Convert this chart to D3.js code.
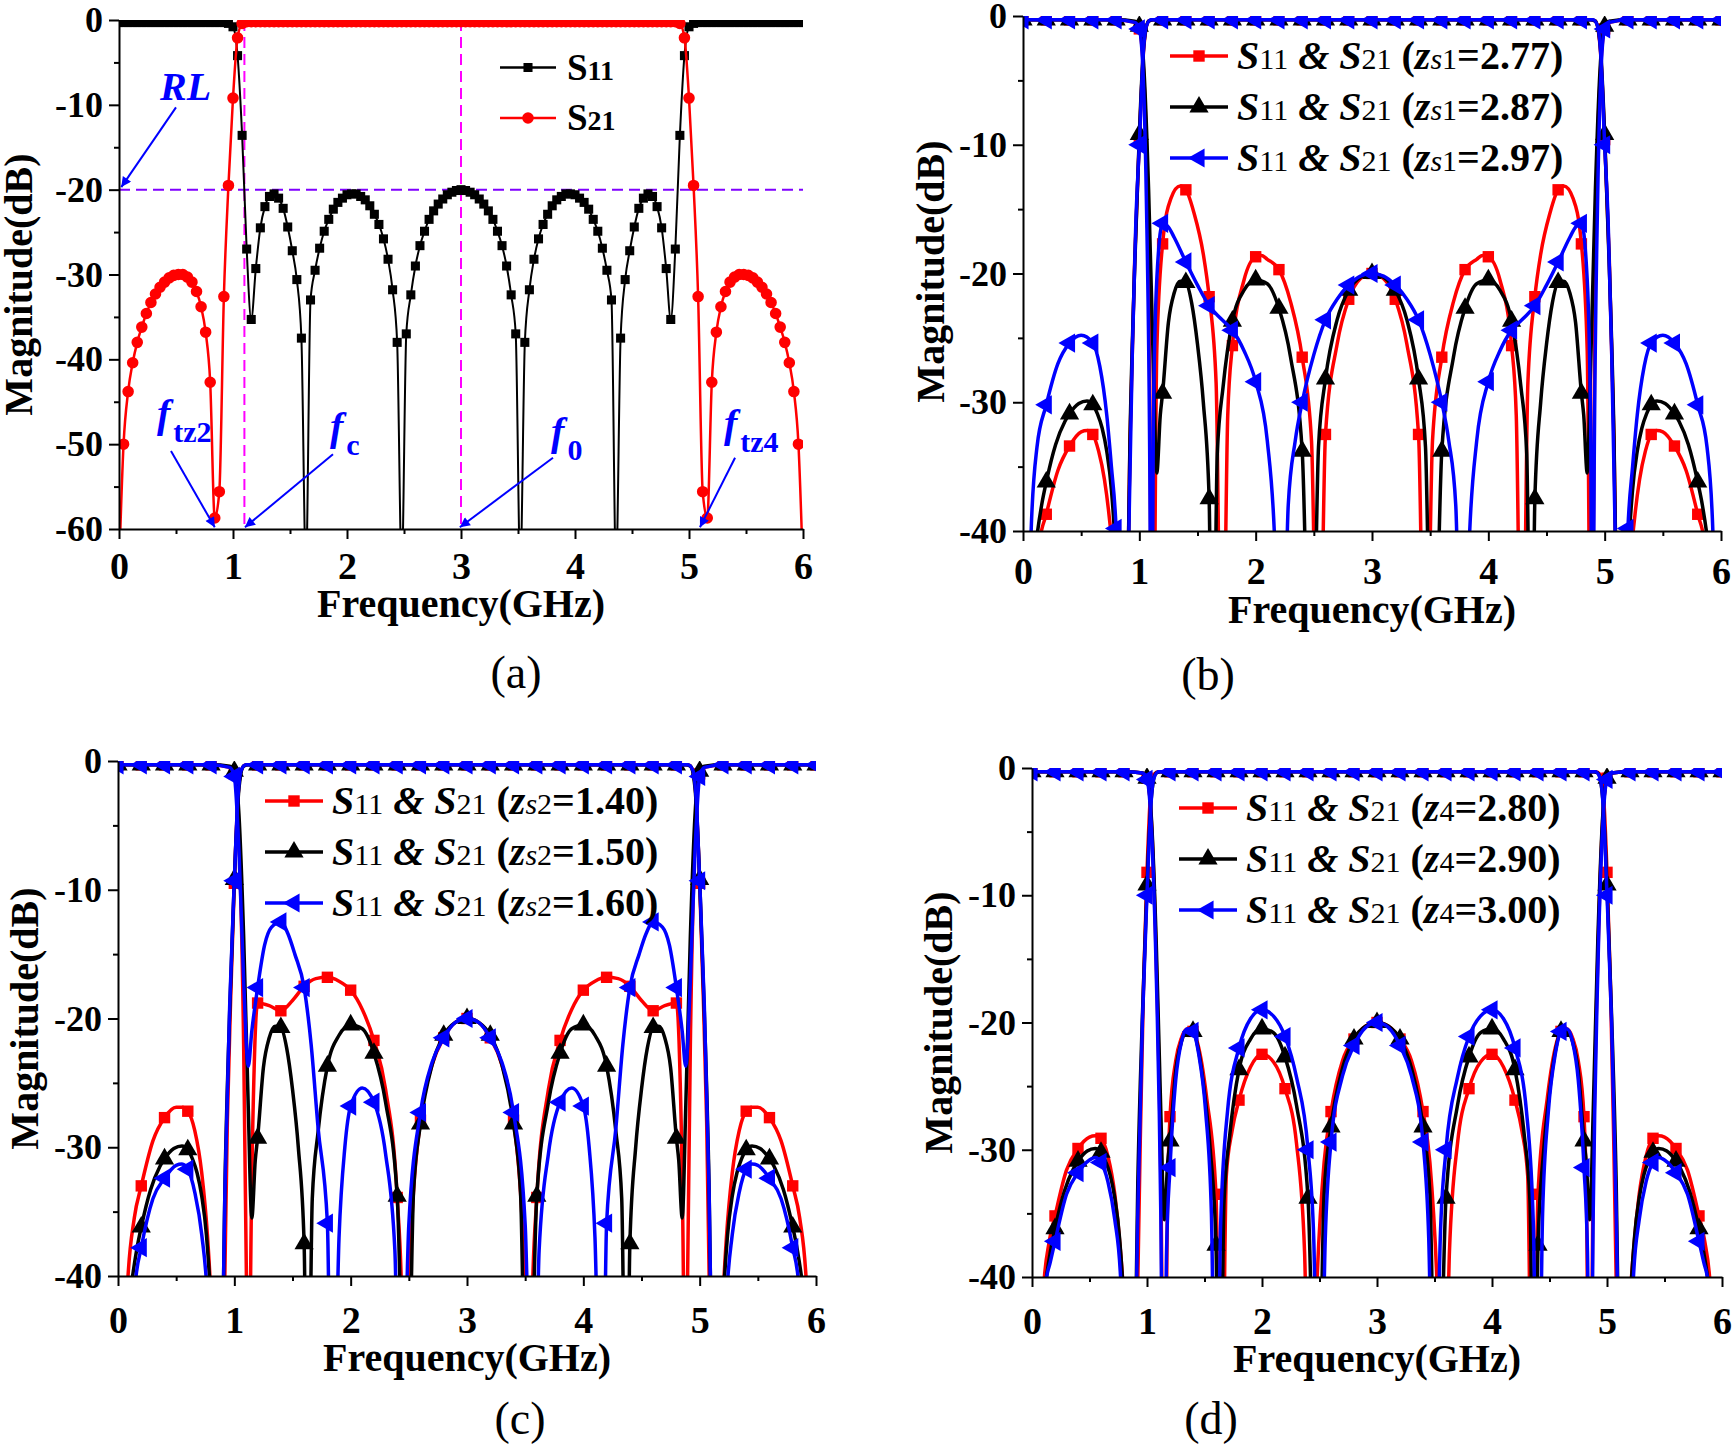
<!DOCTYPE html>
<html>
<head>
<meta charset="utf-8">
<script src="https://cdn.jsdelivr.net/npm/d3@7"></script>
<style>
  body { margin: 0; background: #fff; }
  svg { display: block; }
</style>
</head>
<body>
<svg id="fig" width="1734" height="1444"></svg>
<script>
var FONT = '"Liberation Serif", "Times New Roman", serif'

// ---------- shared axis values ----------
var freqTicks = [0, 1, 2, 3, 4, 5, 6]
var freqMinor = [0.5, 1.5, 2.5, 3.5, 4.5, 5.5]
var magTicksA = [0, -10, -20, -30, -40, -50, -60]
var magMinorA = [-5, -15, -25, -35, -45, -55]
var magTicks = [0, -10, -20, -30, -40]
var magMinor = [-5, -15, -25, -35]

// ---------- panel (a): S11 / S21 sampled every 0.04 GHz ----------
var aStep = 0.04
var aS11 = [
  -0.3,-0.3,-0.3,-0.3,-0.3,-0.3,-0.3,-0.3,-0.3,-0.3,
  -0.3,-0.3,-0.3,-0.3,-0.3,-0.3,-0.3,-0.3,-0.3,-0.3,
  -0.3,-0.3,-0.3,-0.3,-0.4,-0.8,-4.2,-13.6,-27,-35.3,
  -29.3,-24.5,-22,-20.8,-20.5,-21,-22.2,-24.4,-27.2,-30.6,
  -37.5,-65,-33,-29.5,-26.9,-24.9,-23.5,-22.3,-21.5,-21,
  -20.6,-20.5,-20.5,-20.8,-21.2,-21.9,-22.9,-24.1,-25.8,-28.2,
  -31.8,-38,-65,-37,-32.4,-29,-26.6,-24.9,-23.5,-22.5,
  -21.7,-21.1,-20.6,-20.3,-20.1,-20,-20.1,-20.3,-20.6,-21.1,
  -21.7,-22.5,-23.5,-24.9,-26.6,-29,-32.4,-37,-65,-38,
  -31.8,-28.2,-25.8,-24.1,-22.9,-21.9,-21.2,-20.8,-20.5,-20.5,
  -20.6,-21,-21.5,-22.3,-23.5,-24.9,-26.9,-29.5,-33,-65,
  -37.5,-30.6,-27.2,-24.4,-22.2,-21,-20.5,-20.8,-22,-24.5,
  -29.3,-35.3,-27,-13.6,-4.2,-0.8,-0.4,-0.3,-0.3,-0.3,
  -0.3,-0.3,-0.3,-0.3,-0.3,-0.3,-0.3,-0.3,-0.3,-0.3,
  -0.3,-0.3,-0.3,-0.3,-0.3,-0.3,-0.3,-0.3,-0.3,-0.3,
  -0.3
]
var aS21 = [
  -65,-50,-43.8,-40.4,-38,-36.2,-34.6,-33.3,-32.3,-31.5,
  -30.9,-30.4,-30.1,-30,-30,-30.3,-30.9,-32,-33.8,-36.8,
  -42.7,-58.7,-55.6,-32.6,-19.5,-9.2,-2.1,-0.4,-0.2,-0.2,
  -0.2,-0.2,-0.2,-0.2,-0.2,-0.2,-0.2,-0.2,-0.2,-0.2,
  -0.2,-0.2,-0.2,-0.2,-0.2,-0.2,-0.2,-0.2,-0.2,-0.2,
  -0.2,-0.2,-0.2,-0.2,-0.2,-0.2,-0.2,-0.2,-0.2,-0.2,
  -0.2,-0.2,-0.2,-0.2,-0.2,-0.2,-0.2,-0.2,-0.2,-0.2,
  -0.2,-0.2,-0.2,-0.2,-0.2,-0.2,-0.2,-0.2,-0.2,-0.2,
  -0.2,-0.2,-0.2,-0.2,-0.2,-0.2,-0.2,-0.2,-0.2,-0.2,
  -0.2,-0.2,-0.2,-0.2,-0.2,-0.2,-0.2,-0.2,-0.2,-0.2,
  -0.2,-0.2,-0.2,-0.2,-0.2,-0.2,-0.2,-0.2,-0.2,-0.2,
  -0.2,-0.2,-0.2,-0.2,-0.2,-0.2,-0.2,-0.2,-0.2,-0.2,
  -0.2,-0.2,-0.2,-0.4,-2.1,-9.2,-19.5,-32.6,-55.6,-58.7,
  -42.7,-36.8,-33.8,-32,-30.9,-30.3,-30,-30,-30.1,-30.4,
  -30.9,-31.5,-32.3,-33.3,-34.6,-36.2,-38,-40.4,-43.8,-50,
  -65
]
var fcLine = 1.1, f0Line = 3.0, rlLevel = -20

// ---------- flat parts shared by (b)-(d) ----------
var s11StopLo = [[0,-0.3],[0.2,-0.3],[0.4,-0.3],[0.6,-0.3],[0.8,-0.3]]
var s11StopHi = [[5.2,-0.3],[5.4,-0.3],[5.6,-0.3],[5.8,-0.3],[6,-0.3]]
var s21Pass = [[1.2,-0.3],[1.4,-0.3],[1.6,-0.3],[1.8,-0.3],[2,-0.3],[2.2,-0.3],[2.4,-0.3],[2.6,-0.3],[2.8,-0.3],[3,-0.3],
  [3.2,-0.3],[3.4,-0.3],[3.6,-0.3],[3.8,-0.3],[4,-0.3],[4.2,-0.3],[4.4,-0.3],[4.6,-0.3],[4.8,-0.3]]

// nominal design (zs1=2.87, zs2=1.50, z4=2.90), black in (b)-(d)
var nomS11Mid = [[0.96,-0.4],[1,-0.8],[1.04,-4.2],[1.08,-13.6],[1.12,-27],[1.15,-35.5],[1.18,-31],[1.2,-29.3],[1.25,-23.8],[1.3,-21.5],
  [1.35,-20.6],[1.4,-20.7],[1.45,-22.3],[1.5,-25.5],[1.55,-30],[1.6,-37.5],[1.63,-58],[1.67,-34],[1.72,-28.8],[1.8,-23.7],
  [1.9,-21.3],[2,-20.5],[2.1,-20.8],[2.2,-22.7],[2.3,-26.5],[2.4,-33.8],[2.48,-58],[2.54,-33.5],[2.6,-28.2],[2.7,-23.6],
  [2.8,-21.3],[2.9,-20.3],[3,-20],[3.1,-20.3],[3.2,-21.3],[3.3,-23.6],[3.4,-28.2],[3.46,-33.5],[3.52,-58],[3.6,-33.8],
  [3.7,-26.5],[3.8,-22.7],[3.9,-20.8],[4,-20.5],[4.1,-21.3],[4.2,-23.7],[4.28,-28.8],[4.33,-34],[4.37,-58],[4.4,-37.5],
  [4.45,-30],[4.5,-25.5],[4.55,-22.3],[4.6,-20.7],[4.65,-20.6],[4.7,-21.5],[4.75,-23.8],[4.8,-29.3],[4.82,-31],[4.85,-35.5],
  [4.88,-27],[4.92,-13.6],[4.96,-4.2],[5,-0.8],[5.04,-0.4]]
var nomS21Lo = [[0.04,-50],[0.08,-43.8],[0.12,-40.4],[0.16,-38],[0.2,-36.2],[0.28,-33.3],[0.36,-31.5],[0.4,-30.9],[0.48,-30.1],[0.55,-29.9],
  [0.6,-30.2],[0.64,-30.9],[0.68,-32],[0.72,-33.8],[0.76,-36.8],[0.8,-42.7],[0.85,-60],[0.88,-55.6],[0.92,-32.6],[0.96,-19.5],
  [1,-9.2],[1.04,-2.1],[1.08,-0.4],[1.12,-0.3]]
var nomS21Hi = [[4.88,-0.3],[4.92,-0.4],[4.96,-2.1],[5,-9.2],[5.04,-19.5],[5.08,-32.6],[5.12,-55.6],[5.15,-60],[5.2,-42.7],[5.24,-36.8],
  [5.28,-33.8],[5.32,-32],[5.36,-30.9],[5.4,-30.2],[5.45,-29.9],[5.52,-30.1],[5.6,-30.9],[5.64,-31.5],[5.72,-33.3],[5.8,-36.2],
  [5.84,-38],[5.88,-40.4],[5.92,-43.8],[5.96,-50]]

// ---------- panel (b): zs1 ----------
var zs1Values = ["2.77", "2.87", "2.97"]
var b277S11Mid = [[0.96,-0.5],[1,-1],[1.04,-5],[1.08,-18],[1.115,-58],[1.15,-26],[1.2,-17.7],[1.27,-14.2],[1.35,-13.2],[1.4,-13.5],
  [1.47,-15.3],[1.55,-18.5],[1.6,-21.8],[1.66,-28.5],[1.71,-58],[1.76,-31],[1.8,-25.6],[1.9,-20.5],[2,-18.7],[2.05,-18.6],
  [2.1,-18.9],[2.2,-19.7],[2.3,-22.2],[2.4,-26.5],[2.48,-33],[2.54,-58],[2.6,-32.5],[2.7,-25.5],[2.8,-22],[2.9,-20.4],
  [3,-20],[3.1,-20.4],[3.2,-22],[3.3,-25.5],[3.4,-32.5],[3.46,-58],[3.52,-33],[3.6,-26.5],[3.7,-22.2],[3.8,-19.7],
  [3.9,-18.9],[3.95,-18.6],[4,-18.7],[4.1,-20.5],[4.2,-25.6],[4.24,-31],[4.29,-58],[4.34,-28.5],[4.4,-21.8],[4.45,-18.5],
  [4.53,-15.3],[4.6,-13.5],[4.65,-13.2],[4.73,-14.2],[4.8,-17.7],[4.85,-26],[4.885,-58],[4.92,-18],[4.96,-5],[5,-1],[5.04,-0.5]]
var b277S21Lo = [[0.1,-58],[0.14,-41],[0.2,-38.7],[0.3,-35.3],[0.4,-33.4],[0.5,-32.3],[0.55,-32.2],[0.6,-32.5],[0.65,-33.8],[0.7,-36],
  [0.74,-38.8],[0.78,-43],[0.84,-60],[0.88,-55],[0.92,-33],[0.96,-19],[1,-9.6],[1.04,-2.3],[1.08,-0.4],[1.12,-0.3]]
var b277S21Hi = [[4.88,-0.3],[4.92,-0.4],[4.96,-2.3],[5,-9.6],[5.04,-19],[5.08,-33],[5.12,-55],[5.16,-60],[5.22,-43],[5.26,-38.8],
  [5.3,-36],[5.35,-33.8],[5.4,-32.5],[5.45,-32.2],[5.5,-32.3],[5.6,-33.4],[5.7,-35.3],[5.8,-38.7],[5.86,-41],[5.9,-58]]
var b297S11Mid = [[0.96,-0.5],[1,-1],[1.03,-4],[1.06,-14],[1.09,-35],[1.105,-58],[1.12,-32],[1.15,-20.5],[1.2,-16.1],[1.25,-16.4],
  [1.3,-17.2],[1.4,-19.1],[1.5,-20.9],[1.6,-22.5],[1.7,-23.5],[1.8,-24.4],[1.9,-26],[2,-28.4],[2.1,-33],[2.16,-40],
  [2.22,-58],[2.28,-38],[2.34,-33],[2.4,-30],[2.5,-26.3],[2.6,-23.6],[2.7,-22],[2.8,-20.9],[2.9,-20.2],[3,-20],
  [3.1,-20.2],[3.2,-20.9],[3.3,-22],[3.4,-23.6],[3.5,-26.3],[3.6,-30],[3.66,-33],[3.72,-38],[3.78,-58],[3.84,-40],
  [3.9,-33],[4,-28.4],[4.1,-26],[4.2,-24.4],[4.3,-23.5],[4.4,-22.5],[4.5,-20.9],[4.6,-19.1],[4.7,-17.2],[4.75,-16.4],
  [4.8,-16.1],[4.85,-20.5],[4.88,-32],[4.895,-58],[4.91,-35],[4.94,-14],[4.97,-4],[5,-1],[5.04,-0.5]]
var b297S21Lo = [[0.04,-58],[0.07,-40],[0.12,-33.5],[0.2,-30.2],[0.3,-27],[0.4,-25.4],[0.5,-24.8],[0.6,-25.4],[0.66,-27.2],[0.72,-31],
  [0.76,-35],[0.8,-39.8],[0.84,-52],[0.87,-60],[0.9,-45],[0.94,-26],[0.97,-16],[1,-10],[1.03,-3.5],[1.06,-0.8],[1.1,-0.3]]
var b297S21Hi = [[4.9,-0.3],[4.94,-0.8],[4.97,-3.5],[5,-10],[5.03,-16],[5.06,-26],[5.1,-45],[5.13,-60],[5.16,-52],[5.2,-39.8],
  [5.24,-35],[5.28,-31],[5.34,-27.2],[5.4,-25.4],[5.5,-24.8],[5.6,-25.4],[5.7,-27],[5.8,-30.2],[5.88,-33.5],[5.93,-40],[5.96,-58]]

// ---------- panel (c): zs2 ----------
var zs2Values = ["1.40", "1.50", "1.60"]
var c140S11Mid = [[0.96,-0.5],[1,-1],[1.04,-6],[1.08,-22],[1.11,-45],[1.125,-58],[1.14,-40],[1.17,-24],[1.2,-18.8],[1.3,-19],
  [1.4,-19.4],[1.5,-18.6],[1.6,-17.5],[1.7,-16.9],[1.8,-16.8],[1.9,-17.1],[2,-17.8],[2.1,-19.3],[2.2,-21.7],[2.3,-25.5],
  [2.4,-33.9],[2.44,-42],[2.47,-58],[2.52,-37],[2.6,-27.9],[2.7,-23.6],[2.8,-21.5],[2.9,-20.3],[3,-20],[3.1,-20.3],
  [3.2,-21.5],[3.3,-23.6],[3.4,-27.9],[3.48,-37],[3.53,-58],[3.56,-42],[3.6,-33.9],[3.7,-25.5],[3.8,-21.7],[3.9,-19.3],
  [4,-17.8],[4.1,-17.1],[4.2,-16.8],[4.3,-16.9],[4.4,-17.5],[4.5,-18.6],[4.6,-19.4],[4.7,-19],[4.8,-18.8],[4.83,-24],
  [4.86,-40],[4.875,-58],[4.89,-45],[4.92,-22],[4.96,-6],[5,-1],[5.04,-0.5]]
var c140S21Lo = [[0.05,-58],[0.08,-41],[0.14,-35.5],[0.2,-33],[0.3,-29.5],[0.4,-27.7],[0.5,-26.9],[0.55,-26.9],[0.6,-27.2],[0.66,-28.7],
  [0.72,-32],[0.77,-37],[0.8,-42],[0.85,-60],[0.9,-50],[0.94,-28],[0.97,-18],[1,-9.5],[1.03,-3],[1.06,-0.7],[1.1,-0.3]]
var c140S21Hi = [[4.9,-0.3],[4.94,-0.7],[4.97,-3],[5,-9.5],[5.03,-18],[5.06,-28],[5.1,-50],[5.15,-60],[5.2,-42],[5.23,-37],
  [5.28,-32],[5.34,-28.7],[5.4,-27.2],[5.45,-26.9],[5.5,-26.9],[5.6,-27.7],[5.7,-29.5],[5.8,-33],[5.86,-35.5],[5.92,-41],[5.95,-58]]
var c160S11Mid = [[0.96,-0.5],[1,-1.2],[1.04,-7],[1.08,-17],[1.12,-23.7],[1.15,-21],[1.2,-17.6],[1.26,-14.3],[1.32,-12.9],[1.4,-12.5],
  [1.46,-13.4],[1.52,-15],[1.6,-17.6],[1.66,-22],[1.72,-28.5],[1.8,-35.9],[1.84,-58],[1.9,-37],[1.95,-30],[2,-26.8],
  [2.1,-25.4],[2.2,-26.5],[2.3,-30.5],[2.38,-38],[2.43,-58],[2.5,-36],[2.6,-27.3],[2.7,-23.4],[2.8,-21.5],[2.9,-20.3],
  [3,-20],[3.1,-20.3],[3.2,-21.5],[3.3,-23.4],[3.4,-27.3],[3.5,-36],[3.57,-58],[3.62,-38],[3.7,-30.5],[3.8,-26.5],
  [3.9,-25.4],[4,-26.8],[4.05,-30],[4.1,-37],[4.16,-58],[4.2,-35.9],[4.28,-28.5],[4.34,-22],[4.4,-17.6],[4.48,-15],
  [4.54,-13.4],[4.6,-12.5],[4.68,-12.9],[4.74,-14.3],[4.8,-17.6],[4.85,-21],[4.88,-23.7],[4.92,-17],[4.96,-7],[5,-1.2],[5.04,-0.5]]
var c160S21Lo = [[0.12,-58],[0.15,-40.5],[0.2,-37.8],[0.3,-34],[0.4,-32.4],[0.5,-31.4],[0.55,-31.3],[0.6,-31.7],[0.66,-33.5],[0.72,-36.8],
  [0.77,-42],[0.83,-60],[0.88,-55],[0.92,-33],[0.96,-19],[1,-9.3],[1.03,-3],[1.06,-0.7],[1.1,-0.3]]
var c160S21Hi = [[4.9,-0.3],[4.94,-0.7],[4.97,-3],[5,-9.3],[5.04,-19],[5.08,-33],[5.12,-55],[5.17,-60],[5.23,-42],[5.28,-36.8],
  [5.34,-33.5],[5.4,-31.7],[5.45,-31.3],[5.5,-31.4],[5.6,-32.4],[5.7,-34],[5.8,-37.8],[5.85,-40.5],[5.88,-58]]

// ---------- panel (d): z4 ----------
var z4Values = ["2.80", "2.90", "3.00"]
var d280S11Mid = [[0.96,-0.4],[1,-0.8],[1.04,-4.5],[1.08,-15],[1.12,-32],[1.15,-58],[1.18,-33],[1.2,-27.4],[1.25,-23],[1.3,-21.2],
  [1.35,-20.5],[1.4,-20.7],[1.45,-22],[1.52,-26],[1.6,-33.5],[1.645,-58],[1.69,-32],[1.74,-28.5],[1.8,-26.1],[1.9,-23.5],
  [2,-22.5],[2.1,-23.1],[2.2,-25.2],[2.3,-29.5],[2.37,-38],[2.42,-58],[2.48,-40],[2.54,-31],[2.6,-27],[2.7,-23],
  [2.8,-21.3],[2.9,-20.3],[3,-20],[3.1,-20.3],[3.2,-21.3],[3.3,-23],[3.4,-27],[3.46,-31],[3.52,-40],[3.58,-58],
  [3.63,-38],[3.7,-29.5],[3.8,-25.2],[3.9,-23.1],[4,-22.5],[4.1,-23.5],[4.2,-26.1],[4.26,-28.5],[4.31,-32],[4.355,-58],
  [4.4,-33.5],[4.48,-26],[4.55,-22],[4.6,-20.7],[4.65,-20.5],[4.7,-21.2],[4.75,-23],[4.8,-27.4],[4.82,-33],[4.85,-58],
  [4.88,-32],[4.92,-15],[4.96,-4.5],[5,-0.8],[5.04,-0.4]]
var d280S21Lo = [[0.07,-58],[0.1,-41],[0.15,-37.2],[0.2,-35.2],[0.3,-31.6],[0.4,-29.9],[0.5,-29],[0.55,-28.9],[0.6,-29.1],[0.66,-30.5],
  [0.72,-33.5],[0.77,-38],[0.8,-42],[0.86,-60],[0.9,-50],[0.94,-30],[0.97,-17],[1,-8.2],[1.03,-2.2],[1.06,-0.5],[1.1,-0.3]]
var d280S21Hi = [[4.9,-0.3],[4.94,-0.5],[4.97,-2.2],[5,-8.2],[5.03,-17],[5.06,-30],[5.1,-50],[5.14,-60],[5.2,-42],[5.23,-38],
  [5.28,-33.5],[5.34,-30.5],[5.4,-29.1],[5.45,-28.9],[5.5,-29],[5.6,-29.9],[5.7,-31.6],[5.8,-35.2],[5.85,-37.2],[5.9,-41],[5.93,-58]]
var d300S11Mid = [[0.96,-0.4],[1,-0.9],[1.04,-5],[1.08,-16],[1.12,-35],[1.145,-58],[1.17,-38],[1.2,-31.4],[1.25,-24.5],[1.3,-21.5],
  [1.35,-20.5],[1.4,-20.7],[1.45,-22.5],[1.51,-27],[1.56,-35],[1.6,-58],[1.64,-36],[1.7,-27],[1.8,-22],[1.9,-19.7],
  [2,-19],[2.1,-19.5],[2.2,-21.1],[2.3,-24.3],[2.4,-30],[2.45,-37],[2.5,-58],[2.55,-37],[2.6,-29.4],[2.7,-24.2],
  [2.8,-21.8],[2.9,-20.4],[3,-20],[3.1,-20.4],[3.2,-21.8],[3.3,-24.2],[3.4,-29.4],[3.45,-37],[3.5,-58],[3.55,-37],
  [3.6,-30],[3.7,-24.3],[3.8,-21.1],[3.9,-19.5],[4,-19],[4.1,-19.7],[4.2,-22],[4.3,-27],[4.36,-36],[4.4,-58],
  [4.44,-35],[4.49,-27],[4.55,-22.5],[4.6,-20.7],[4.65,-20.5],[4.7,-21.5],[4.75,-24.5],[4.8,-31.4],[4.83,-38],[4.855,-58],
  [4.88,-35],[4.92,-16],[4.96,-5],[5,-0.9],[5.04,-0.4]]
var d300S21Lo = [[0.09,-58],[0.12,-40.5],[0.16,-38.8],[0.2,-37.2],[0.3,-33.5],[0.4,-31.8],[0.5,-30.8],[0.55,-30.6],[0.6,-31],[0.66,-32.5],
  [0.72,-35.5],[0.77,-40],[0.82,-60],[0.88,-55],[0.92,-35],[0.96,-20],[1,-10],[1.03,-3.5],[1.06,-0.8],[1.1,-0.3]]
var d300S21Hi = [[4.9,-0.3],[4.94,-0.8],[4.97,-3.5],[5,-10],[5.04,-20],[5.08,-35],[5.12,-55],[5.18,-60],[5.23,-40],[5.28,-35.5],
  [5.34,-32.5],[5.4,-31],[5.45,-30.6],[5.5,-30.8],[5.6,-31.8],[5.7,-33.5],[5.8,-37.2],[5.84,-38.8],[5.88,-40.5],[5.91,-58]]

// ---------- layout ----------
var panelA = {id:"a", L:119, R:803, T:20, B:529, yMin:-60, yTicks:magTicksA, yMinor:magMinorA, xPad:13, xTitle:88, titleOff:87, titleShift:10, label:"(a)", labelX:516, labelY:688}
var panelB = {id:"b", L:1023, R:1721, T:16, B:531, yMin:-40, yTicks:magTicks, yMinor:magMinor, xPad:16, xTitle:92, titleOff:79, titleShift:-2, label:"(b)", labelX:1208, labelY:690}
var panelC = {id:"c", L:118, R:816, T:761, B:1276, yMin:-40, yTicks:magTicks, yMinor:magMinor, xPad:20, xTitle:95, titleOff:80, titleShift:0, label:"(c)", labelX:520, labelY:1434}
var panelD = {id:"d", L:1032, R:1722, T:768, B:1277, yMin:-40, yTicks:magTicks, yMinor:magMinor, xPad:20, xTitle:95, titleOff:80, titleShift:0, label:"(d)", labelX:1211, labelY:1434}

var RED = "#ff0000", BLACK = "#000000", BLUE = "#0000ff"
var symSquare = {type: d3.symbolSquare, size: 130, rot: 0}
var symUp = {type: d3.symbolTriangle, size: 160, rot: 0}
var symLeft = {type: d3.symbolTriangle, size: 160, rot: -90}

var svg = d3.select("#fig")
var defs = svg.append("defs")
defs.append("marker").attr("id", "arrowBlue")
    .attr("viewBox", "0 0 10 10").attr("refX", 10).attr("refY", 5)
    .attr("markerWidth", 16).attr("markerHeight", 10).attr("markerUnits", "userSpaceOnUse")
    .attr("orient", "auto")
    .append("path").attr("d", "M0,0 L10,5 L0,10 z").attr("fill", BLUE)

function setupPanel(p) {
    var x = d3.scaleLinear().domain([0, 6]).range([p.L, p.R])
    var y = d3.scaleLinear().domain([p.yMin, 0]).range([p.B, p.T])
    defs.append("clipPath").attr("id", "clip" + p.id)
        .append("rect").attr("x", p.L).attr("y", p.T)
        .attr("width", p.R - p.L).attr("height", p.B - p.T)
    var g = svg.append("g")
    return {x: x, y: y, g: g, clip: "url(#clip" + p.id + ")"}
}

function drawAxes(p, ctx) {
    var g = ctx.g
    var fmt = function (d) { return String(d) }
    // minor ticks
    g.append("g").attr("transform", "translate(" + p.L + ",0)")
        .call(d3.axisLeft(ctx.y).tickValues(p.yMinor).tickSize(5).tickFormat(""))
        .call(function (s) { s.select(".domain").remove() })
        .selectAll("line").attr("stroke-width", 2)
    g.append("g").attr("transform", "translate(0," + p.B + ")")
        .call(d3.axisBottom(ctx.x).tickValues(freqMinor).tickSize(5).tickFormat(""))
        .call(function (s) { s.select(".domain").remove() })
        .selectAll("line").attr("stroke-width", 2)

    var ya = g.append("g").attr("transform", "translate(" + p.L + ",0)")
        .call(d3.axisLeft(ctx.y).tickValues(p.yTicks).tickSize(10).tickSizeOuter(0).tickPadding(6).tickFormat(fmt))
    ya.attr("font-family", FONT).attr("font-size", 36).attr("font-weight", "bold")
    ya.selectAll("path,line").attr("stroke-width", 2)

    var xa = g.append("g").attr("transform", "translate(0," + p.B + ")")
        .call(d3.axisBottom(ctx.x).tickValues(freqTicks).tickSize(10).tickSizeOuter(0).tickPadding(p.xPad).tickFormat(fmt))
    xa.attr("font-family", FONT).attr("font-size", 38).attr("font-weight", "bold")
    xa.selectAll("path,line").attr("stroke-width", 2)

    g.append("text")
        .attr("x", (p.L + p.R) / 2).attr("y", p.B + p.xTitle)
        .attr("text-anchor", "middle")
        .attr("font-family", FONT).attr("font-size", 40).attr("font-weight", "bold")
        .text("Frequency(GHz)")
    g.append("text")
        .attr("transform", "translate(" + (p.L - p.titleOff) + "," + ((p.T + p.B) / 2 + p.titleShift) + ") rotate(-90)")
        .attr("text-anchor", "middle")
        .attr("font-family", FONT).attr("font-size", 40).attr("font-weight", "bold")
        .text("Magnitude(dB)")
    svg.append("text")
        .attr("x", p.labelX).attr("y", p.labelY)
        .attr("text-anchor", "middle")
        .attr("font-family", FONT).attr("font-size", 46)
        .text(p.label)
}

function onGrid(d) {
    var k = d[0] / 0.2
    return Math.abs(k - Math.round(k)) < 1e-6
}

function drawCurve(ctx, pts, color, width) {
    var line = d3.line().x(function (d) { return ctx.x(d[0]) }).y(function (d) { return ctx.y(d[1]) })
        .curve(d3.curveMonotoneX)
    ctx.g.append("path").attr("clip-path", ctx.clip)
        .attr("d", line(pts)).attr("fill", "none")
        .attr("stroke", color).attr("stroke-width", width).attr("stroke-linejoin", "round")
}

function drawMarkers(ctx, pts, color, sym) {
    var shape = d3.symbol().type(sym.type).size(sym.size)()
    ctx.g.append("g").attr("clip-path", ctx.clip)
        .selectAll("path").data(pts).join("path")
        .attr("transform", function (d) { return "translate(" + ctx.x(d[0]) + "," + ctx.y(d[1]) + ") rotate(" + sym.rot + ")" })
        .attr("d", shape).attr("fill", color)
}

function richText(g, x, y, parts, size, subSize) {
    var t = g.append("text").attr("x", x).attr("y", y)
        .attr("font-family", FONT).attr("font-size", size)
        .style("white-space", "pre")
    parts.forEach(function (q) {
        t.append("tspan").text(q.t)
            .attr("font-size", q.sub ? subSize : size)
            .attr("font-style", q.it ? "italic" : "normal")
            .attr("font-weight", q.b ? "bold" : "normal")
    })
    return t
}

// ---------- panel (a) ----------
var ca = setupPanel(panelA)
var aS11Pts = aS11.map(function (v, i) { return [i * aStep, v] })
var aS21Pts = aS21.map(function (v, i) { return [i * aStep, v] })
var aSquare = {type: d3.symbolSquare, size: 82, rot: 0}
var aCircle = {type: d3.symbolCircle, size: 105, rot: 0}

// guide lines
ca.g.append("line")
    .attr("x1", ca.x(0)).attr("x2", ca.x(6)).attr("y1", ca.y(rlLevel)).attr("y2", ca.y(rlLevel))
    .attr("stroke", "#8000ff").attr("stroke-width", 2).attr("stroke-dasharray", "11,6")
;[fcLine, f0Line].forEach(function (f) {
    ca.g.append("line")
        .attr("x1", ca.x(f)).attr("x2", ca.x(f)).attr("y1", ca.y(0)).attr("y2", ca.y(-60))
        .attr("stroke", "#ff00ff").attr("stroke-width", 2).attr("stroke-dasharray", "11,6")
})

drawCurve(ca, aS11Pts, BLACK, 2)
drawMarkers(ca, aS11Pts, BLACK, aSquare)
drawCurve(ca, aS21Pts, RED, 2.5)
drawMarkers(ca, aS21Pts, RED, aCircle)
drawAxes(panelA, ca)

// legend (a)
var legA = [{name: "11", color: BLACK, sym: aSquare},
            {name: "21", color: RED, sym: aCircle}]
legA.forEach(function (e, i) {
    var ry = panelA.T + 47.5 + i * 50.5
    ca.g.append("line").attr("x1", panelA.L + 381).attr("x2", panelA.L + 437).attr("y1", ry).attr("y2", ry)
        .attr("stroke", e.color).attr("stroke-width", 2.5)
    ca.g.append("path").attr("transform", "translate(" + (panelA.L + 409) + "," + ry + ")")
        .attr("d", d3.symbol().type(e.sym.type).size(e.sym.size)()).attr("fill", e.color)
    richText(ca.g, panelA.L + 448, ry + 12, [{t: "S", b: true}, {t: e.name, b: true, sub: true}], 37, 28)
})

// annotations (a)
var annoRL = {x: 0.36, y: -9.4, from: [0.5, -10.3], to: [0.02, -19.7]}
var annoF = [
    {sub: "tz2", x: 0.333, y: -48, from: [0.456, -50.8], to: [0.84, -59.8]},
    {sub: "c", x: 1.85, y: -49.5, from: [1.877, -51.2], to: [1.105, -59.8]},
    {sub: "0", x: 3.79, y: -50.1, from: [3.807, -51.6], to: [2.99, -59.8]},
    {sub: "tz4", x: 5.307, y: -49.2, from: [5.404, -51.6], to: [5.096, -59.8]}
]
function arrow(a) {
    ca.g.append("line")
        .attr("x1", ca.x(a.from[0])).attr("y1", ca.y(a.from[1]))
        .attr("x2", ca.x(a.to[0])).attr("y2", ca.y(a.to[1]))
        .attr("stroke", BLUE).attr("stroke-width", 2)
        .attr("marker-end", "url(#arrowBlue)")
}
ca.g.append("text").attr("x", ca.x(annoRL.x)).attr("y", ca.y(annoRL.y))
    .attr("font-family", FONT).attr("font-size", 40).attr("font-weight", "bold").attr("font-style", "italic")
    .attr("fill", BLUE).text("RL")
arrow(annoRL)
annoF.forEach(function (a) {
    var t = ca.g.append("text").attr("x", ca.x(a.x)).attr("y", ca.y(a.y))
        .attr("font-family", FONT).attr("fill", BLUE).attr("font-weight", "bold")
    t.append("tspan").attr("font-size", 40).attr("font-style", "italic").text("f")
    t.append("tspan").attr("font-size", 30).attr("dx", 3).attr("dy", 15).text(a.sub)
    arrow(a)
})

// ---------- panels (b)-(d) ----------
function sweepPanel(p, sweeps, paramSub) {
    var ctx = setupPanel(p)
    sweeps.forEach(function (s) {
        var s11 = s11StopLo.concat(s.s11, s11StopHi)
        var s21 = s.s21Lo.concat(s21Pass, s.s21Hi)
        drawCurve(ctx, s11, s.color, 3.5)
        drawCurve(ctx, s21, s.color, 3.5)
        drawMarkers(ctx, s11.filter(onGrid), s.color, s.sym)
        drawMarkers(ctx, s21.filter(onGrid), s.color, s.sym)
    })
    drawAxes(p, ctx)
    sweeps.forEach(function (s, i) {
        var ry = p.T + 40 + i * 51
        ctx.g.append("line").attr("x1", p.L + 147).attr("x2", p.L + 205).attr("y1", ry).attr("y2", ry)
            .attr("stroke", s.color).attr("stroke-width", 3.5)
        ctx.g.append("path").attr("transform", "translate(" + (p.L + 176) + "," + ry + ") rotate(" + s.sym.rot + ")")
            .attr("d", d3.symbol().type(s.sym.type).size(s.sym.size)()).attr("fill", s.color)
        var parts = [
            {t: "S", it: true, b: true}, {t: "11", sub: true},
            {t: " & ", it: true, b: true},
            {t: "S", it: true, b: true}, {t: "21", sub: true},
            {t: " (", b: true}, {t: "z", it: true, b: true}
        ].concat(paramSub, [{t: "=" + s.value + ")", b: true}])
        richText(ctx.g, p.L + 214, ry + 13, parts, 40, 30)
    })
}

sweepPanel(panelB, [
    {value: zs1Values[0], color: RED, sym: symSquare, s11: b277S11Mid, s21Lo: b277S21Lo, s21Hi: b277S21Hi},
    {value: zs1Values[1], color: BLACK, sym: symUp, s11: nomS11Mid, s21Lo: nomS21Lo, s21Hi: nomS21Hi},
    {value: zs1Values[2], color: BLUE, sym: symLeft, s11: b297S11Mid, s21Lo: b297S21Lo, s21Hi: b297S21Hi}
], [{t: "s", it: true, sub: true}, {t: "1", sub: true}])

sweepPanel(panelC, [
    {value: zs2Values[0], color: RED, sym: symSquare, s11: c140S11Mid, s21Lo: c140S21Lo, s21Hi: c140S21Hi},
    {value: zs2Values[1], color: BLACK, sym: symUp, s11: nomS11Mid, s21Lo: nomS21Lo, s21Hi: nomS21Hi},
    {value: zs2Values[2], color: BLUE, sym: symLeft, s11: c160S11Mid, s21Lo: c160S21Lo, s21Hi: c160S21Hi}
], [{t: "s", it: true, sub: true}, {t: "2", sub: true}])

sweepPanel(panelD, [
    {value: z4Values[0], color: RED, sym: symSquare, s11: d280S11Mid, s21Lo: d280S21Lo, s21Hi: d280S21Hi},
    {value: z4Values[1], color: BLACK, sym: symUp, s11: nomS11Mid, s21Lo: nomS21Lo, s21Hi: nomS21Hi},
    {value: z4Values[2], color: BLUE, sym: symLeft, s11: d300S11Mid, s21Lo: d300S21Lo, s21Hi: d300S21Hi}
], [{t: "4", sub: true}])
</script>
</body>
</html>
